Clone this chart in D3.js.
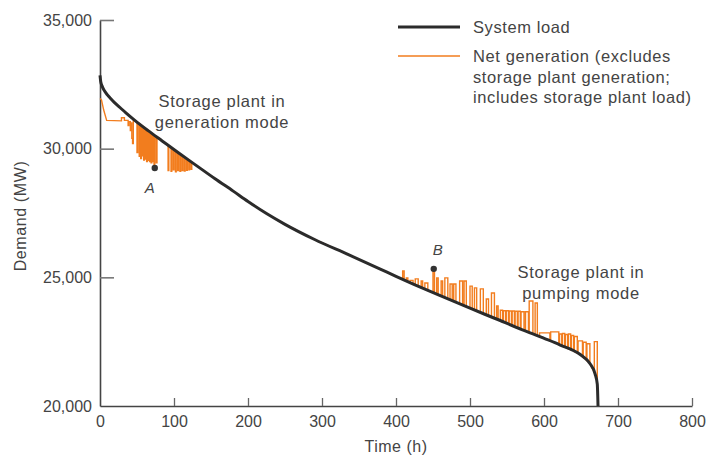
<!DOCTYPE html>
<html><head><meta charset="utf-8">
<script src="https://cdn.jsdelivr.net/npm/d3@7"></script>
<style>
body{margin:0;background:#fff;}
svg text{font-family:"Liberation Sans",Arial,sans-serif;fill:#444;}
</style></head><body><svg id="chart" width="709" height="455"></svg>
<script>
// ---- data (time in h, demand in MW) ----
const systemLoad = [
  [0,32850],[1,32600],[3,32420],[6,32250],[10,32090],[14,31960],[20,31780],[27,31600],
  [35,31390],[47,31100],[65,30700],[84,30300],[105,29860],[128,29390],[155,28840],[180,28350],
  [200,27950],[225,27480],[250,27060],[290,26470],[335,25890],[378,25330],[400,25040],
  [432,24630],[459,24300],[500,23800],[534,23400],[570,22970],[601,22620],[622,22370],
  [649,22000],[662,21650],[669,21250],[672,20850],[673,20000]
];
const netGeneration = [
  [0,31950],[2,31900],[5,31500],[9,31100],[29,31080],[29,31200],[33,31200],[33,31100],[38,31100],
  [38,30900],[39,30900],[39,31050],[41,31050],[41,30700],[42,30700],[42,31000],[43,31000],
  [43,30400],[44,30400],[44,30200],[45,30200],[45,31150],[48,31080],
  [50,31040],[50,29850],[51,29850],[51,31020],
  [53,30975],[53,29700],[54,29700],[54,30955],
  [55,30930],[55,29620],[56,29620],[56,30910],
  [57,30885],[57,29720],[58,29720],[58,30865],
  [59,30840],[59,29560],[60,29560],[60,30820],
  [61,30800],[61,29600],[62,29600],[62,30775],
  [63,30755],[63,29500],[64,29500],[64,30730],
  [65,30700],[65,29550],[66,29550],[66,30679],
  [67,30658],[67,29500],[68,29500],[68,30637],
  [69,30616],[69,29450],[70,29450],[70,30595],
  [71,30574],[71,29500],[72,29500],[72,30553],
  [73,30532],[73,29380],[74,29380],[74,30510],
  [76,30468],[76,29450],[77,29450],[77,30447],
  [84,30300],
  [92,30132],[92,29150],[93,29150],[93,30111],
  [96,30049],[96,29120],[97,29120],[97,30028],
  [99,29986],[99,29180],[100,29180],[100,29965],
  [102,29923],[102,29100],[103,29100],[103,29902],
  [105,29860],[105,29150],[106,29150],[106,29840],
  [108,29799],[108,29120],[109,29120],[109,29778],
  [111,29737],[111,29150],[112,29150],[112,29717],
  [114,29676],[114,29130],[115,29130],[115,29656],
  [117,29615],[117,29160],[118,29160],[118,29594],
  [120,29554],[120,29180],[121,29180],[121,29533],
  [123,29492],[123,29200],[124,29200],[124,29472],
  [128,29390],[155,28840],[180,28350],[200,27950],[225,27480],[250,27060],[290,26470],
  [335,25890],[378,25330],[400,25040],
  [409,24925],[409,25250],[411,25250],[411,24899],
  [414,24861],[414,24980],[416,24980],[416,24835],
  [419,24797],[419,24880],[423,24880],[423,24745],
  [426,24707],[426,24940],[430,24940],[430,24656],
  [434,24606],[434,24860],[436,24860],[436,24581],
  [439,24544],[439,24780],[443,24780],[443,24496],
  [450,24410],[450,25330],[452,25330],[452,24386],
  [455,24349],[455,24980],[457,24980],[457,24325],
  [461,24276],[461,24860],[463,24860],[463,24251],
  [466,24215],[466,24980],[470,24980],[470,24166],
  [473,24129],[473,24740],[476,24740],[476,24093],
  [478,24068],[478,24740],[481,24740],[481,24032],
  [486,23971],[486,24860],[490,24860],[490,23922],
  [492,23897],[492,24860],[495,24860],[495,23861],
  [500,23800],[500,24660],[503,24660],[503,23765],
  [506,23729],[506,24590],[509,24590],[509,23694],
  [514,23635],[514,24550],[518,24550],[518,23588],
  [522,23541],[522,24160],[525,24160],[525,23506],
  [529,23459],[529,24390],[533,24390],[533,23412],
  [536,23376],[536,23890],[538,23890],[538,23352],
  [541,23316],[541,23720],[544,23720],[544,23281],
  [545,23269],[545,23700],[548,23700],[548,23233],
  [549,23221],[549,23700],[552,23700],[552,23185],
  [553,23173],[553,23690],[556,23690],[556,23137],
  [557,23125],[557,23690],[560,23690],[560,23090],
  [561,23078],[561,23680],[564,23680],[564,23042],
  [565,23030],[565,23680],[568,23680],[568,22994],
  [569,22982],[569,23660],[573,23660],[573,22936],
  [575,22914],[575,23660],[579,23660],[579,22868],
  [580,22857],[580,24080],[585,24080],[585,22801],
  [588,22767],[588,24000],[591,24000],[591,22733],
  [594,22699],[594,22840],[608,22840],[608,22537],
  [609,22525],[609,22880],[620,22880],[620,22394],
  [621,22382],[621,22800],[624,22800],[624,22343],
  [625,22329],[625,22820],[628,22820],[628,22288],
  [629,22274],[629,22780],[632,22780],[632,22233],
  [633,22219],[633,22800],[636,22800],[636,22178],
  [637,22165],[637,22740],[640,22740],[640,22123],
  [641,22110],[641,22700],[645,22700],[645,22055],
  [646,22041],[646,22530],[652,22530],[652,21919],
  [653,21892],[653,22480],[657,22480],[657,21785],
  [658,21758],[658,22420],[662,22420],[662,21650],
  [668,21308],[668,22500],[672,22500],[672,20850]
];
const markerLabels = ["A","B"];
const markerTimes = [74,451];
const markerValues = [29250,25330];
const xTicks = [0,100,200,300,400,500,600,700,800];
const yTicks = [20000,25000,30000,35000];
const legendLabels = [["System load"],["Net generation (excludes","storage plant generation;","includes storage plant load)"]];
const modeLabels = [["Storage plant in","generation mode"],["Storage plant in","pumping mode"]];
const xTitle = "Time (h)";
const yTitle = "Demand (MW)";

// ---- drawing ----
const svg = d3.select("#chart");
const x = d3.scaleLinear().domain([0,800]).range([100,692]);
const y = d3.scaleLinear().domain([20000,35000]).range([406,20]);
const BLACK = "#2b2b2b", ORANGE = "#f27d1e", AXIS = "#444", TXT = "#444";
const FONT = "Liberation Sans, Arial, sans-serif";

// axes
const yAxis = svg.append("g").attr("transform","translate(100,0)")
  .call(d3.axisLeft(y).tickValues(yTicks).tickSizeInner(-14).tickSizeOuter(0).tickPadding(8)
    .tickFormat(d3.format(",")));
yAxis.select(".domain").attr("stroke",AXIS).attr("stroke-width",1.6);
yAxis.selectAll(".tick line").attr("stroke","#777").attr("stroke-width",1.6)
  .filter(d=>d===20000).remove();
yAxis.selectAll(".tick text").attr("font-size",16).attr("fill",TXT).attr("font-family",FONT);

const xAxis = svg.append("g").attr("transform","translate(0,406)")
  .call(d3.axisBottom(x).tickValues(xTicks).tickSizeInner(-8).tickSizeOuter(0).tickPadding(10));
xAxis.select(".domain").attr("stroke",AXIS).attr("stroke-width",1.6);
xAxis.selectAll(".tick line").attr("stroke","#666").attr("stroke-width",1.3)
  .filter(d=>d===0).remove();
xAxis.selectAll(".tick text").attr("font-size",16).attr("fill",TXT).attr("font-family",FONT);

// titles
svg.append("text").attr("x",396).attr("y",452).attr("text-anchor","middle")
  .attr("font-size",16).attr("letter-spacing",0.5).text(xTitle);
svg.append("text").attr("transform","translate(26,216) rotate(-90)").attr("text-anchor","middle")
  .attr("font-size",16).attr("letter-spacing",0.6).text(yTitle);

// lines
const lineLin = d3.line().x(d=>x(d[0])).y(d=>y(d[1]));
svg.append("path").datum(netGeneration).attr("d",lineLin)
  .attr("fill","none").attr("stroke",ORANGE).attr("stroke-width",1.4).attr("stroke-linejoin","miter");
const lineSmooth = d3.line().x(d=>x(d[0])).y(d=>y(d[1])).curve(d3.curveMonotoneX);
svg.append("path").datum(systemLoad).attr("d",lineSmooth)
  .attr("fill","none").attr("stroke",BLACK).attr("stroke-width",3);

// markers
const markerData = markerLabels.map((l,i)=>({label:l,t:markerTimes[i],v:markerValues[i]}));
svg.selectAll("circle.mk").data(markerData).enter().append("circle").attr("class","mk")
  .attr("cx",d=>x(d.t)).attr("cy",d=>y(d.v)).attr("r",3.2).attr("fill","#333");
const markerOffsets = [[-5,25],[4,-14]];
svg.selectAll("text.mk").data(markerData).enter().append("text").attr("class","mk")
  .attr("x",(d,i)=>x(d.t)+markerOffsets[i][0]).attr("y",(d,i)=>y(d.v)+markerOffsets[i][1])
  .attr("text-anchor","middle").attr("font-size",15).attr("font-style","italic").text(d=>d.label);

// mode labels
const modePos = [[222,107],[581,278]];
modeLabels.forEach((lines,i)=>{
  const t = svg.append("text").attr("text-anchor","middle").attr("font-size",16.5).attr("letter-spacing",0.7);
  lines.forEach((s,j)=>t.append("tspan").attr("x",modePos[i][0]).attr("y",modePos[i][1]+j*20.5).text(s));
});

// legend
const legColors = [BLACK, ORANGE];
const legWidths = [3, 2];
const legY = [27, 56];
legendLabels.forEach((lines,i)=>{
  svg.append("line").attr("x1",398).attr("x2",460).attr("y1",legY[i]).attr("y2",legY[i])
    .attr("stroke",legColors[i]).attr("stroke-width",legWidths[i]).attr("opacity", i===1?0.75:1);
  const t = svg.append("text").attr("font-size",16.5).attr("letter-spacing",0.6);
  lines.forEach((s,j)=>t.append("tspan").attr("x",473).attr("y",legY[i]+6+j*20.5).text(s));
});
</script></body></html>
